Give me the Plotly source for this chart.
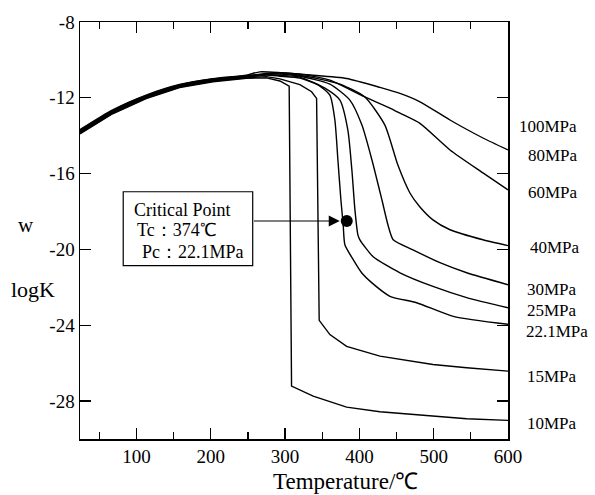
import plotly.graph_objects as go

# ---------------- data ----------------
band_T = [24, 68, 113, 158, 203, 248, 275]

T_10 = band_T + [293, 305.5, 308.7, 337.8, 382.8, 427.6, 499.0, 544.4, 600]
K_10 = [-13.90, -12.84, -12.04, -11.46, -11.15, -10.97, -10.95,
        -11.11, -11.38, -27.21, -27.74, -28.32, -28.56, -28.79, -28.93, -29.02]

T_15 = band_T + [293, 319.9, 335.7, 342.4, 345.9, 360.3, 382.8, 427.6, 499.0, 544.4, 600]
K_15 = [-13.86, -12.81, -12.01, -11.43, -11.12, -10.94, -10.88,
        -11.00, -11.30, -11.68, -12.03, -23.74, -24.49, -25.11, -25.63, -26.07, -26.24, -26.42]

T_22 = band_T + [293, 319.9, 346.8, 360.3, 367.0, 371.1, 375.1, 378.2, 380.5, 391.7,
                 403.0, 416.5, 441.1, 477.0, 526.3, 600]
K_22 = [-13.83, -12.78, -11.98, -11.40, -11.09, -10.91, -10.80,
        -10.86, -10.96, -11.38, -11.86, -13.17, -15.28, -17.38, -18.70, -19.75, -20.54,
        -21.23, -21.75, -22.47, -22.81, -23.53, -23.95]

T_25 = band_T + [293, 319.9, 353.6, 373.8, 384.5, 389.9, 394.0, 398.0, 400.7, 418.2,
                 454.6, 499.0, 544.4, 600]
K_25 = [-13.80, -12.75, -11.96, -11.38, -11.07, -10.89, -10.78,
        -10.81, -10.91, -11.49, -12.12, -13.70, -15.81, -17.91, -19.23, -19.49, -20.37,
        -21.23, -21.95, -22.54, -23.08]

T_30 = band_T + [293, 319.9, 360.3, 387.2, 403.4, 416.9, 430.3, 438.4, 445.5, 472.1,
                 508.4, 544.4, 600]
K_30 = [-13.77, -12.72, -11.93, -11.36, -11.05, -10.87, -10.76,
        -10.75, -10.86, -11.28, -12.12, -13.44, -15.28, -17.38, -18.70, -19.49, -20.02,
        -20.70, -21.23, -21.86]

T_40 = band_T + [293, 319.9, 373.8, 407.4, 434.3, 451.8, 468.0, 481.5, 499.0,
                 521.9, 566.3, 600]
K_40 = [-13.74, -12.70, -11.91, -11.34, -11.03, -10.85, -10.74,
        -10.70, -10.81, -11.28, -11.96, -13.44, -15.55, -17.02, -17.76, -18.44,
        -18.96, -19.49, -19.80]

T_60 = band_T + [293, 319.9, 360.3, 404.7, 441.1, 454.6, 481.5, 521.9, 566.3, 600]
K_60 = [-13.71, -12.67, -11.89, -11.32, -11.01, -10.83, -10.72,
        -10.67, -10.75, -11.07, -11.91, -12.54, -12.81, -13.35, -14.75, -15.96, -16.86]

T_80 = [24, 68, 113, 158, 203, 248, 266, 337.4, 382.8, 427.6, 454.6, 481.5, 521.9, 566.3, 600]
K_80 = [-13.68, -12.64, -11.86, -11.30, -10.99, -10.80, -10.63,
        -10.81, -10.98, -11.45, -11.77, -12.21, -13.17, -14.12, -14.75]

series_T = [T_10, T_15, T_22, T_25, T_30, T_40, T_60, T_80]
series_K = [K_10, K_15, K_22, K_25, K_30, K_40, K_60, K_80]
series_name = ["10MPa", "15MPa", "22.1MPa", "25MPa", "30MPa", "40MPa", "60MPa", "80MPa"]
series_shape = ["linear", "linear", "spline", "spline", "spline", "spline", "spline", "spline"]

pressure_labels = ["100MPa", "80MPa", "60MPa", "40MPa", "30MPa", "25MPa", "22.1MPa", "15MPa", "10MPa"]
pressure_label_K = [-13.49, -15.02, -17.02, -19.91, -22.12, -23.23, -24.33, -26.70, -29.17]
pressure_label_dx = [9, 18, 18, 20, 17, 17, 16, 17, 17]

critical_T = 383
critical_K = -18.5
box_lines = ["Critical Point", "Tc\uff1a374\u2103", "Pc\uff1a22.1MPa"]

y_tickvals = [-8, -12, -16, -20, -24, -28]
y_ticktext = ["-8", "-12", "-16", "-20", "-24", "-28"]

# ---------------- figure ----------------
SERIF = "Liberation Serif, Times New Roman, serif"
fig = go.Figure()

for T, K, name, shp in zip(series_T, series_K, series_name, series_shape):
    fig.add_trace(go.Scatter(
        x=T, y=K, mode="lines", name=name,
        line=dict(color="black", width=1.4, shape=shp, smoothing=0.6),
        showlegend=False, hoverinfo="skip"))

fig.add_trace(go.Scatter(
    x=[critical_T], y=[critical_K], mode="markers",
    marker=dict(color="black", size=12, symbol="circle"),
    showlegend=False, hoverinfo="skip"))

# pressure labels at right
for lab, k, dx in zip(pressure_labels, pressure_label_K, pressure_label_dx):
    fig.add_annotation(x=1, xref="paper", y=k, yref="y", text=lab,
                       showarrow=False, xanchor="left", yanchor="middle",
                       xshift=dx, font=dict(family=SERIF, size=17, color="black"))

# critical point box (frame + three text lines)
fig.add_shape(type="rect", xref="paper", yref="paper",
              x0=0.101, x1=0.4035, y0=0.4157, y1=0.5929,
              line=dict(color="black", width=1.2), fillcolor="white", layer="above")
for txt, lx, ly in zip(box_lines, [0.1208, 0.1285, 0.1402], [0.549, 0.5012, 0.4492]):
    fig.add_annotation(x=lx, y=ly, xref="paper", yref="paper", text=txt,
                       showarrow=False, xanchor="left", yanchor="middle",
                       font=dict(family=SERIF, size=18, color="black"))

# arrow
fig.add_annotation(x=critical_T, y=critical_K, xref="x", yref="y",
                   ax=256, ay=critical_K, axref="x", ayref="y",
                   text="", showarrow=True, arrowhead=2, arrowsize=2, arrowwidth=1.1,
                   arrowcolor="black", standoff=7)

# axis titles
fig.add_annotation(x=(345 - 80) / 428, xref="paper", y=0, yref="paper", yshift=-42,
                   text="Temperature/\u2103", showarrow=False, xanchor="center", yanchor="middle",
                   font=dict(family=SERIF, size=23, color="black"))
fig.add_annotation(x=0, xref="paper", xshift=-54, y=-18.7, yref="y",
                   text="w", showarrow=False, xanchor="center", yanchor="middle",
                   font=dict(family=SERIF, size=21, color="black"))
fig.add_annotation(x=0, xref="paper", xshift=-47, y=-22.1, yref="y",
                   text="logK", showarrow=False, xanchor="center", yanchor="middle",
                   font=dict(family=SERIF, size=22, color="black"))

axis_common = dict(showline=True, linecolor="black", linewidth=1.5, mirror="ticks",
                   ticks="inside", tickcolor="black", tickwidth=1.3, ticklen=11,
                   showgrid=False, zeroline=False,
                   tickfont=dict(family=SERIF, size=19, color="black"))

fig.update_xaxes(range=[24, 600], tickmode="linear", tick0=0, dtick=100,
                 minor=dict(ticks="inside", dtick=50, tick0=0, ticklen=7,
                            tickcolor="black", tickwidth=1.2, showgrid=False),
                 **axis_common)
fig.update_yaxes(range=[-30, -8], tickvals=y_tickvals, ticktext=y_ticktext, **axis_common)

fig.update_layout(width=595, height=495, margin=dict(l=80, r=87, t=22, b=56),
                  plot_bgcolor="white", paper_bgcolor="white", showlegend=False)

fig.write_html("out.html", config={"displayModeBar": False, "staticPlot": True},
               post_script="document.body.style.margin='0px';document.body.style.overflow='hidden';")
